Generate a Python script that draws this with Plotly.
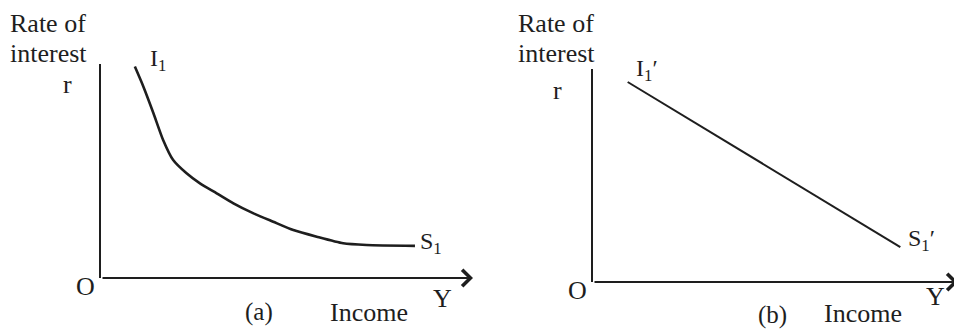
import plotly.graph_objects as go

# ---- data (axis units 0..10) ----
income_a = [0.91, 1.14, 1.41, 1.67, 1.94, 2.30, 2.66, 3.11, 3.56, 4.10, 4.63, 5.17, 5.80, 6.51, 7.14, 8.44]
rate_a = [9.88, 8.94, 7.70, 6.45, 5.51, 4.89, 4.42, 3.96, 3.49, 3.02, 2.63, 2.24, 1.93, 1.62, 1.54, 1.50]

income_b = [0.95, 8.42]
rate_b = [9.39, 1.64]

# page body has an 8px margin: figure is sized to the visible area
OFF = 8
W, H = 962 - OFF, 331 - OFF
INK = "#1e1e1e"
FONT = "Liberation Serif"


def fx(x):
    return (x - OFF) / W


def fy(y):
    return 1 - (y - OFF) / H


fig = go.Figure()
fig.add_trace(go.Scatter(x=income_a, y=rate_a, mode="lines",
                         line=dict(color=INK, width=2.6, shape="spline", smoothing=0.6),
                         xaxis="x", yaxis="y", hoverinfo="skip", showlegend=False))
fig.add_trace(go.Scatter(x=income_b, y=rate_b, mode="lines",
                         line=dict(color=INK, width=2.0),
                         xaxis="x2", yaxis="y2", hoverinfo="skip", showlegend=False))

axis_common = dict(showgrid=False, zeroline=False, showticklabels=False, ticks="",
                   range=[0, 10], fixedrange=True)

fig.update_layout(
    xaxis=dict(domain=[fx(101), fx(473)], anchor="y", showline=False, **axis_common),
    yaxis=dict(domain=[fy(278), fy(64)], anchor="x", showline=True,
               linecolor=INK, linewidth=2, **axis_common),
    xaxis2=dict(domain=[fx(593), fx(958)], anchor="y2", showline=False, **axis_common),
    yaxis2=dict(domain=[fy(282), fy(69)], anchor="x2", showline=True,
                linecolor=INK, linewidth=2, **axis_common),
)

annotations = []
for xr, yr in (("x", "y"), ("x2", "y2")):
    annotations.append(dict(x=10, y=0, ax=0, ay=0, xref=xr, yref=yr, axref=xr, ayref=yr,
                            text="", showarrow=True, arrowhead=4, arrowsize=1.6,
                            arrowwidth=2, arrowcolor=INK))

# axis titles at the very top, anchored to the figure's top edge
for xc in (48, 556):
    annotations.append(dict(text="Rate of", x=fx(xc), y=1, xref="paper", yref="paper",
                            xanchor="center", yanchor="top", showarrow=False, borderpad=0,
                            font=dict(family=FONT, size=26, color=INK)))

labels = [
    ("interest", 48, 54, 26), ("r", 67, 84, 26),
    ("I<sub>1</sub>", 158, 60, 24), ("S<sub>1</sub>", 431, 243, 24),
    ("O", 85, 286, 26), ("Y", 442, 298, 26), ("(a)", 259, 312, 25), ("Income", 369, 312, 26),
    ("interest", 556, 54, 26), ("r", 557, 90, 26),
    ("I<sub>1</sub>′", 647, 70, 24), ("S<sub>1</sub>′", 921, 240, 24),
    ("O", 577, 290, 26), ("Y", 935, 296, 26), ("(b)", 772, 315, 25), ("Income", 863, 313, 26),
]
for t, x, y, s in labels:
    annotations.append(dict(text=t, x=fx(x), y=fy(y), xref="paper", yref="paper",
                            xanchor="center", yanchor="middle", showarrow=False,
                            font=dict(family=FONT, size=s, color=INK)))

fig.update_layout(
    width=W, height=H, margin=dict(l=0, r=0, t=0, b=0),
    paper_bgcolor="white", plot_bgcolor="white",
    annotations=annotations, showlegend=False,
)

fig.write_html("out.html")
